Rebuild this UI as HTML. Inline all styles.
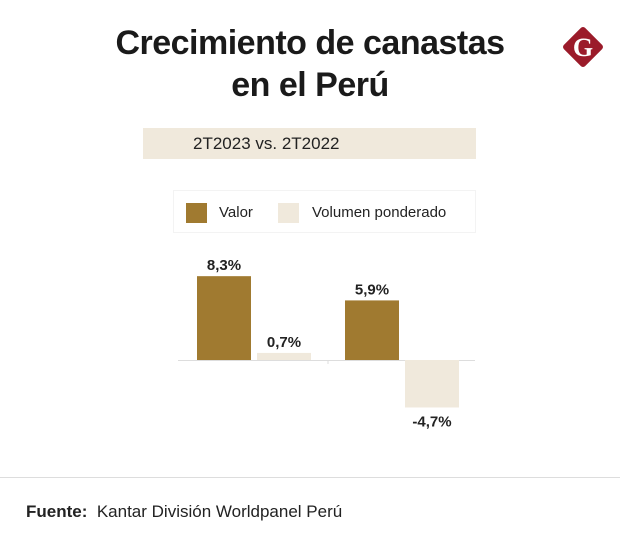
<!DOCTYPE html>
<html><head><meta charset="utf-8"><style>
body{margin:0;width:620px;height:550px;background:#fff;font-family:"Liberation Sans",sans-serif;overflow:hidden;position:relative}
.t{position:absolute;left:0;width:620px;text-align:center;font-weight:bold;font-size:34px;color:#1a1a1a;letter-spacing:-0.5px}
</style></head><body>
<div class="t" style="top:24px">Crecimiento de canastas</div>
<div class="t" style="top:66px">en el Perú</div>
<svg style="position:absolute;left:560px;top:24px" width="46" height="46" viewBox="0 0 46 46">
<rect x="8" y="8" width="30" height="30" rx="3" fill="#9b1b2a" transform="rotate(45 23 23)"/>
<text x="23" y="32" text-anchor="middle" font-family="Liberation Serif,serif" font-weight="bold" font-size="26" fill="#fff">G</text></svg>
<div style="position:absolute;left:143px;top:128px;width:333px;height:31px;background:#f0e9dc;font-size:17px;color:#222;line-height:31px;padding-left:50px;box-sizing:border-box">2T2023 vs. 2T2022</div>
<div style="position:absolute;left:173px;top:190px;width:303px;height:43px;border:1px solid #f3f3f3;box-sizing:border-box;font-size:15px;color:#222">
<div style="position:absolute;left:12px;top:12px;width:21px;height:20px;background:#a07a30"></div>
<span style="position:absolute;left:45px;top:13px">Valor</span>
<div style="position:absolute;left:104px;top:12px;width:21px;height:20px;background:#f0e9dc"></div>
<span style="position:absolute;left:138px;top:13px">Volumen ponderado</span>
</div>
<svg id="ch" style="position:absolute;left:0;top:0" width="620" height="470"></svg>
<div style="position:absolute;left:0;top:477px;width:620px;height:1px;background:#ddd"></div>
<div style="position:absolute;left:26px;top:502px;font-size:17px;color:#222"><b>Fuente:</b>&nbsp; Kantar División Worldpanel Perú</div>
<script>
const categories=["Grupo 1","Grupo 2"];
const valor=[8.3,5.9];
const volumen=[0.7,-4.7];
const labels=[["8,3%","5,9%"],["0,7%","-4,7%"]];
const svg=document.getElementById('ch');const NS='http://www.w3.org/2000/svg';
const base=360,k=10.1;const y=v=>base-v*k;
const groupX=[197,345],bw=54,gap=6;
function mk(t,a){const e=document.createElementNS(NS,t);for(const n in a)e.setAttribute(n,a[n]);svg.appendChild(e);return e;}
const ax=mk('line',{x1:178,x2:475,y1:base+0.5,y2:base+0.5,stroke:'#ddd','stroke-width':1});


const tk=mk('line',{x1:328,x2:328,y1:base,y2:base+4,stroke:'#ddd'});


[valor,volumen].forEach((ser,s)=>{ser.forEach((v,i)=>{
const x=groupX[i]+s*(bw+gap);
const r=mk('rect',{x:x,y:Math.min(y(v),base),width:bw,height:Math.abs(v)*k,fill:s?'#f0e9dc':'#a07a30'});


const ty=v>=0?y(v)-6:y(v)+19;
const t=mk('text',{x:x+bw/2,y:ty,'text-anchor':'middle','font-weight':'bold','font-size':15,fill:'#222','font-family':'Liberation Sans,sans-serif'});
t.textContent=labels[s][i];


});});
</script>
</body></html>
